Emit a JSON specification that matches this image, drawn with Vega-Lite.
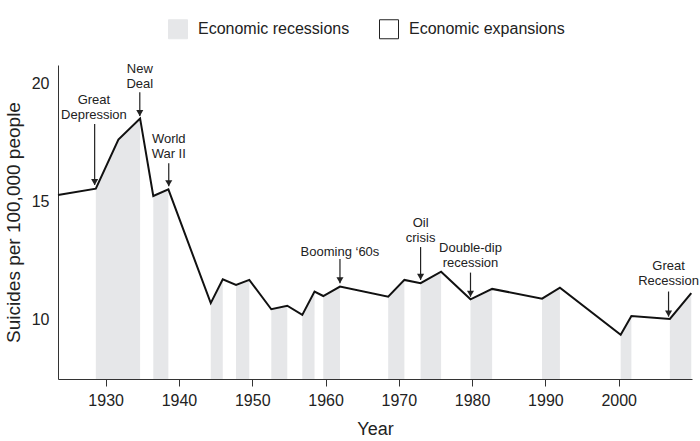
{
  "$schema": "https://vega.github.io/schema/vega-lite/v6.json",
  "width": 634,
  "height": 314,
  "autosize": {"type": "none"},
  "padding": {"left": 58, "top": 65, "right": 8, "bottom": 62},
  "background": "white",
  "config": {"view": {"stroke": null}, "font": "Liberation Sans"},
  "datasets": {
    "line": [
      {"year": 1923.5, "rate": 15.28},
      {"year": 1928.66, "rate": 15.55},
      {"year": 1931.74, "rate": 17.63},
      {"year": 1934.7, "rate": 18.52},
      {"year": 1936.5, "rate": 15.24},
      {"year": 1938.56, "rate": 15.52},
      {"year": 1944.34, "rate": 10.71},
      {"year": 1945.98, "rate": 11.72},
      {"year": 1947.79, "rate": 11.48},
      {"year": 1949.6, "rate": 11.69},
      {"year": 1952.6, "rate": 10.45},
      {"year": 1954.78, "rate": 10.6},
      {"year": 1956.83, "rate": 10.21},
      {"year": 1958.5, "rate": 11.2},
      {"year": 1959.69, "rate": 11.01},
      {"year": 1961.97, "rate": 11.41},
      {"year": 1968.55, "rate": 10.98},
      {"year": 1970.76, "rate": 11.69},
      {"year": 1972.97, "rate": 11.55},
      {"year": 1975.77, "rate": 12.04},
      {"year": 1979.78, "rate": 10.87},
      {"year": 1982.73, "rate": 11.31},
      {"year": 1989.54, "rate": 10.9},
      {"year": 1991.98, "rate": 11.36},
      {"year": 2000.27, "rate": 9.37},
      {"year": 2001.73, "rate": 10.16},
      {"year": 2006.98, "rate": 10.04},
      {"year": 2009.9, "rate": 11.13}
    ],
    "rec": [
      {"rec": "A", "year": 1928.66, "rate": 15.55},
      {"rec": "A", "year": 1931.74, "rate": 17.63},
      {"rec": "A", "year": 1934.7, "rate": 18.52},
      {"rec": "B", "year": 1936.5, "rate": 15.24},
      {"rec": "B", "year": 1938.56, "rate": 15.52},
      {"rec": "C", "year": 1944.34, "rate": 10.71},
      {"rec": "C", "year": 1945.98, "rate": 11.72},
      {"rec": "D", "year": 1947.79, "rate": 11.48},
      {"rec": "D", "year": 1949.6, "rate": 11.69},
      {"rec": "E", "year": 1952.6, "rate": 10.45},
      {"rec": "E", "year": 1954.78, "rate": 10.6},
      {"rec": "F", "year": 1956.83, "rate": 10.21},
      {"rec": "F", "year": 1958.5, "rate": 11.2},
      {"rec": "G", "year": 1959.69, "rate": 11.01},
      {"rec": "G", "year": 1961.97, "rate": 11.41},
      {"rec": "H", "year": 1968.55, "rate": 10.98},
      {"rec": "H", "year": 1970.76, "rate": 11.69},
      {"rec": "I", "year": 1972.97, "rate": 11.55},
      {"rec": "I", "year": 1975.77, "rate": 12.04},
      {"rec": "J", "year": 1979.78, "rate": 10.87},
      {"rec": "J", "year": 1982.73, "rate": 11.31},
      {"rec": "K", "year": 1989.54, "rate": 10.9},
      {"rec": "K", "year": 1991.98, "rate": 11.36},
      {"rec": "L", "year": 2000.27, "rate": 9.37},
      {"rec": "L", "year": 2001.73, "rate": 10.16},
      {"rec": "M", "year": 2006.98, "rate": 10.04},
      {"rec": "M", "year": 2009.9, "rate": 11.13}
    ],
    "notes": [
      {"label": "Great\nDepression", "tx": 1928.4, "ty": 19.3, "ax": 1928.5, "a1": 18.28, "a2": 15.7},
      {"label": "New\nDeal", "tx": 1934.66, "ty": 20.61, "ax": 1934.66, "a1": 19.63, "a2": 18.62},
      {"label": "World\nWar II", "tx": 1938.61, "ty": 17.64, "ax": 1938.61, "a1": 16.62, "a2": 15.65},
      {"label": "Booming ‘60s", "tx": 1961.97, "ty": 12.87, "ax": 1961.97, "a1": 12.58, "a2": 11.55},
      {"label": "Oil\ncrisis", "tx": 1972.97, "ty": 14.09, "ax": 1972.97, "a1": 13.08, "a2": 11.69},
      {"label": "Double-dip\nrecession", "tx": 1979.78, "ty": 13.02, "ax": 1979.78, "a1": 12.0, "a2": 10.98},
      {"label": "Great\nRecession", "tx": 2006.8, "ty": 12.27, "ax": 2006.8, "a1": 11.2, "a2": 10.14}
    ]
  },
  "layer": [
    {
      "data": {"name": "rec"},
      "mark": {"type": "area", "interpolate": "linear"},
      "encoding": {
        "x": {"field": "year", "type": "quantitative", "scale": {"domain": [1923.5, 2010], "nice": false, "zero": false},
          "axis": {"values": [1930, 1940, 1950, 1960, 1970, 1980, 1990, 2000], "format": "d", "grid": false, "title": "Year",
            "domainColor": "#333", "tickColor": "#333", "tickSize": 7, "labelFontSize": 16, "labelColor": "#222", "labelPadding": 6,
            "titleFontSize": 18, "titleFontWeight": "normal", "titleColor": "#222", "titlePadding": 12}},
        "y": {"field": "rate", "type": "quantitative", "scale": {"domain": [7.5, 20.78], "nice": false, "zero": false},
          "axis": {"values": [10, 15, 20], "grid": false, "ticks": false, "title": "Suicides per 100,000 people",
            "domainColor": "#333", "labelFontSize": 16, "labelColor": "#222", "labelPadding": 9,
            "titleFontSize": 19, "titleFontWeight": "normal", "titleColor": "#222", "titlePadding": 8}},
        "y2": {"datum": 7.5},
        "detail": {"field": "rec"},
        "color": {"datum": "Economic recessions", "type": "nominal",
          "scale": {"domain": ["Economic recessions", "Economic expansions"], "range": ["#e6e7e9", "#ffffff"]},
          "legend": {"orient": "none", "legendX": 110, "legendY": -46, "direction": "horizontal", "title": null,
            "symbolType": "square", "symbolSize": 361, "symbolStrokeWidth": 1, "symbolOpacity": 1,
            "labelFontSize": 16, "labelColor": "#222", "labelOffset": 10, "columnPadding": 27, "padding": 0,
            "labelLimit": 300,
            "encode": {"symbols": {"update": {"stroke": {"signal": "datum.value === 'Economic expansions' ? '#222222' : '#e6e7e9'"}}}}}}
      }
    },
    {
      "data": {"name": "line"},
      "mark": {"type": "line", "color": "#111111", "strokeWidth": 2, "strokeJoin": "miter"},
      "encoding": {
        "x": {"field": "year", "type": "quantitative"},
        "y": {"field": "rate", "type": "quantitative"}
      }
    },
    {
      "data": {"name": "notes"},
      "mark": {"type": "rule", "color": "#222222", "strokeWidth": 1.2},
      "encoding": {
        "x": {"field": "ax", "type": "quantitative"},
        "y": {"field": "a1", "type": "quantitative"},
        "y2": {"field": "a2"}
      }
    },
    {
      "data": {"name": "notes"},
      "mark": {"type": "point", "shape": "triangle-down", "filled": true, "size": 50, "color": "#222222", "opacity": 1, "yOffset": -3},
      "encoding": {
        "x": {"field": "ax", "type": "quantitative"},
        "y": {"field": "a2", "type": "quantitative"}
      }
    },
    {
      "data": {"name": "notes"},
      "mark": {"type": "text", "lineBreak": "\n", "fontSize": 13, "lineHeight": 15, "align": "center", "baseline": "middle", "color": "#222222"},
      "encoding": {
        "x": {"field": "tx", "type": "quantitative"},
        "y": {"field": "ty", "type": "quantitative"},
        "text": {"field": "label"}
      }
    }
  ]
}
